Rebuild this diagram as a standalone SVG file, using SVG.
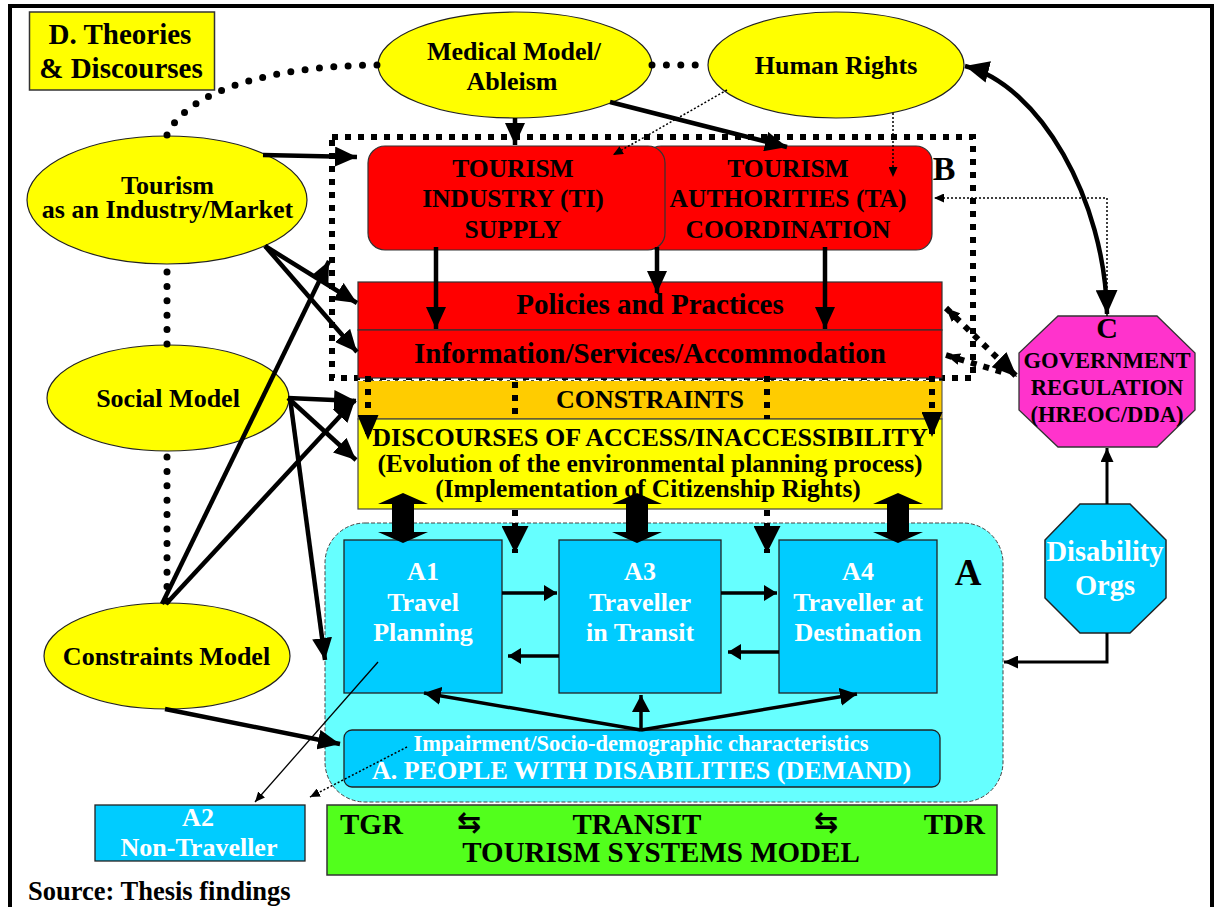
<svg xmlns="http://www.w3.org/2000/svg" width="1214" height="907" viewBox="0 0 1214 907">
<defs>
<style>
text{font-family:"Liberation Serif","Times New Roman",serif;font-weight:bold;text-anchor:middle;fill:#000}
.w{fill:#fff}
.f25{font-size:25.5px}
.f26{font-size:26px}
.f29{font-size:29px}
.f22{font-size:22.6px}
.sym{font-family:"DejaVu Sans",sans-serif;font-size:29px;font-weight:bold}
.ell{fill:#ffff00;stroke:#222;stroke-width:1.2}
.red{fill:#ff0000;stroke:#333;stroke-width:1.2}
.cy{fill:#00ccff;stroke:#222;stroke-width:1.3}
.ln{fill:none;stroke:#000}
.th{fill:none;stroke:#000;stroke-width:4.5}
.md{fill:none;stroke:#000;stroke-width:3.5}
.thin{fill:none;stroke:#000;stroke-width:1.3}
.dotl{fill:none;stroke:#000;stroke-width:1.5;stroke-dasharray:2 2}
.dots{fill:none;stroke:#000;stroke-width:7;stroke-linecap:round;stroke-dasharray:0 14.4}
.sq{fill:none;stroke:#000;stroke-width:6;stroke-dasharray:6 7}
</style>
<marker id="ah" markerUnits="userSpaceOnUse" viewBox="0 0 22 20" markerWidth="22" markerHeight="20" refX="22" refY="10" orient="auto-start-reverse"><path d="M0,0 L22,10 L0,20 Z"/></marker>
<marker id="hr" markerUnits="userSpaceOnUse" viewBox="0 0 24 22" markerWidth="24" markerHeight="22" refX="24" refY="11" orient="auto-start-reverse"><path d="M0,0 L24,11 L0,22 Z"/></marker>
<marker id="am" markerUnits="userSpaceOnUse" viewBox="0 0 13 16" markerWidth="13" markerHeight="16" refX="13" refY="8" orient="auto-start-reverse"><path d="M0,0 L13,8 L0,16 Z"/></marker>
<marker id="au" markerUnits="userSpaceOnUse" viewBox="0 0 17 18" markerWidth="17" markerHeight="18" refX="17" refY="9" orient="auto-start-reverse"><path d="M0,0 L17,9 L0,18 Z"/></marker>
<marker id="as" markerUnits="userSpaceOnUse" viewBox="0 0 10 9" markerWidth="10" markerHeight="9" refX="10" refY="4.5" orient="auto-start-reverse"><path d="M0,0 L10,4.5 L0,9 Z"/></marker>
<marker id="amd" markerUnits="userSpaceOnUse" viewBox="0 0 14 13" markerWidth="14" markerHeight="13" refX="14" refY="6.5" orient="auto-start-reverse"><path d="M0,0 L14,6.5 L0,13 Z"/></marker>
<marker id="asq" markerUnits="userSpaceOnUse" viewBox="0 0 25 21" markerWidth="25" markerHeight="21" refX="25" refY="10.5" orient="auto-start-reverse"><path d="M0,0 L25,10.5 L0,21 Z"/></marker>
<marker id="asqB" markerUnits="userSpaceOnUse" viewBox="0 0 27 27" markerWidth="27" markerHeight="27" refX="27" refY="13.5" orient="auto-start-reverse"><path d="M0,0 L27,13.5 L0,27 Z"/></marker>
<marker id="asm" markerUnits="userSpaceOnUse" viewBox="0 0 14 12" markerWidth="14" markerHeight="12" refX="14" refY="6" orient="auto-start-reverse"><path d="M0,0 L14,6 L0,12 Z"/></marker>
</defs>

<rect width="1214" height="907" fill="#fff"/>

<!-- outer frame -->
<g id="frame">
<rect x="10" y="6" width="1202" height="930" fill="none" stroke="#000" stroke-width="4"/>
</g>

<!-- D: theories and discourses -->
<g id="node-theories">
<rect x="29.5" y="12" width="185" height="78" fill="#ffff00" stroke="#333" stroke-width="1.5"/>
<text x="120" y="44" class="f29">D. Theories</text>
<text x="121" y="78" class="f29">&amp; Discourses</text>
</g>

<g id="node-medical">
<ellipse cx="515" cy="65" rx="137" ry="53" class="ell"/>
<text x="514" y="60" class="f26">Medical Model/</text>
<text x="512" y="90" class="f26">Ableism</text>
</g>

<g id="node-human-rights">
<ellipse cx="836" cy="65" rx="128" ry="53" class="ell"/>
<text x="836" y="74" class="f26">Human Rights</text>
</g>

<g id="node-tourism-market">
<ellipse cx="167" cy="200" rx="140" ry="64" class="ell"/>
<text x="167.5" y="194" class="f26">Tourism</text>
<text x="167.5" y="218" class="f26">as an Industry/Market</text>
</g>

<g id="node-social">
<ellipse cx="168" cy="398" rx="121" ry="53" class="ell"/>
<text x="168" y="407" class="f26">Social Model</text>
</g>

<g id="node-constraints-model">
<ellipse cx="167" cy="656" rx="123" ry="53" class="ell"/>
<text x="166.5" y="665" class="f26">Constraints Model</text>
</g>

<!-- B: supply side -->
<g id="node-B">
<rect x="332" y="137" width="641" height="241" class="sq"/>
<rect x="645" y="146" width="287" height="104" rx="16" class="red"/>
<text x="788" y="177" class="f25">TOURISM</text>
<text x="788" y="207" class="f25">AUTHORITIES (TA)</text>
<text x="788" y="238" class="f25">COORDINATION</text>
<rect x="368" y="146" width="297" height="104" rx="17" class="red"/>
<text x="513" y="177" class="f25">TOURISM</text>
<text x="513" y="207" class="f25">INDUSTRY (TI)</text>
<text x="513" y="238" class="f25">SUPPLY</text>
<text x="944" y="180" style="font-size:34px">B</text>
<rect x="358" y="282" width="584" height="48" class="red"/>
<text x="650" y="314" class="f29">Policies and Practices</text>
<rect x="358" y="330" width="584" height="48" class="red"/>
<text x="650" y="363" class="f29">Information/Services/Accommodation</text>
</g>

<g id="node-constraints">
<rect x="358" y="380.5" width="584" height="38.5" fill="#ffcc00" stroke="#444" stroke-width="1"/>
<line x1="358" y1="380.5" x2="942" y2="380.5" stroke="#fff" stroke-width="1" stroke-dasharray="5 3"/>
<text x="650" y="408" class="f26">CONSTRAINTS</text>
</g>

<g id="node-discourses">
<rect x="358" y="419" width="584" height="90" fill="#ffff00" stroke="#444" stroke-width="1.2"/>
<text x="650" y="446" class="f26">DISCOURSES OF ACCESS/INACCESSIBILITY</text>
<text x="650" y="471.5" style="font-size:25.5px">(Evolution of the environmental planning process)</text>
<text x="648" y="497" style="font-size:25.5px">(Implementation of Citizenship Rights)</text>
</g>

<!-- A: demand side -->
<g id="node-A">
<rect x="325" y="523" width="678" height="279" rx="40" fill="#66ffff" stroke="#444" stroke-width="1" stroke-dasharray="4 2"/>
<text x="968" y="585" style="font-size:37px">A</text>
</g>

<g id="node-A1">
<rect x="344" y="540" width="158" height="153" class="cy"/>
<text x="423" y="580" class="f26 w">A1</text>
<text x="423" y="611" class="f26 w">Travel</text>
<text x="423" y="641" class="f26 w">Planning</text>
</g>

<g id="node-A3">
<rect x="559" y="540" width="162" height="153" class="cy"/>
<text x="640" y="580" class="f26 w">A3</text>
<text x="640" y="611" class="f26 w">Traveller</text>
<text x="640" y="641" class="f26 w">in Transit</text>
</g>

<g id="node-A4">
<rect x="779" y="540" width="158" height="153" class="cy"/>
<text x="858" y="580" class="f26 w">A4</text>
<text x="858" y="611" class="f26 w">Traveller at</text>
<text x="858" y="641" class="f26 w">Destination</text>
</g>

<g id="node-people">
<rect x="344" y="730" width="596" height="57" rx="8" class="cy"/>
<text x="641" y="751" class="f22 w">Impairment/Socio-demographic characteristics</text>
<text x="641.5" y="779" class="f26 w">A. PEOPLE WITH DISABILITIES (DEMAND)</text>
</g>

<g id="node-A2">
<rect x="95" y="805" width="210" height="56" class="cy"/>
<text x="198" y="826" class="f26 w">A2</text>
<text x="199" y="856" class="f26 w">Non-Traveller</text>
</g>

<g id="node-systems">
<rect x="327" y="805" width="670" height="70" fill="#52ff1c" stroke="#333" stroke-width="1.5"/>
<text x="340" y="834" class="f29" style="text-anchor:start">TGR</text>
<text x="469" y="832" class="sym">⇆</text>
<text x="637" y="834" class="f29">TRANSIT</text>
<text x="826" y="832" class="sym">⇆</text>
<text x="985" y="834" class="f29" style="text-anchor:end">TDR</text>
<text x="661" y="862" class="f29">TOURISM SYSTEMS MODEL</text>
</g>

<!-- C: government regulation -->
<g id="node-C">
<polygon points="1058,316 1157,316 1195,353 1195,410 1157,447 1058,447 1019,410 1019,353" fill="#ff33cc" stroke="#333" stroke-width="1.3"/>
<text x="1107" y="338" style="font-size:30px">C</text>
<text x="1107" y="368" class="f22">GOVERNMENT</text>
<text x="1107" y="395" class="f22">REGULATION</text>
<text x="1107" y="422" class="f22">(HREOC/DDA)</text>
</g>

<g id="node-disability-orgs">
<polygon points="1080,504 1130,504 1166,540 1166,598 1130,633 1080,633 1045,598 1045,540" fill="#00ccff" stroke="#222" stroke-width="1.5"/>
<text x="1105" y="561" class="w" style="font-size:28.5px">Disability</text>
<text x="1105" y="595" class="w" style="font-size:28.5px">Orgs</text>
</g>

<text x="28" y="900" style="font-size:26.5px;text-anchor:start">Source: Thesis findings</text>

<g id="connectors">
<!-- links between theories -->
<path class="dots" d="M167,135 C185,95 260,66 378,65"/>
<path class="dots" d="M652,65 L708,65"/>
<path class="dots" d="M167,272 L167,345"/>
<path class="dots" d="M167,457 L167,603"/>

<!-- theories acting on supply and constraints -->
<path class="th" marker-end="url(#ah)" d="M263,155 L357,157"/>
<path class="th" marker-end="url(#ah)" d="M515,118 L515,145"/>
<path class="th" marker-end="url(#ah)" d="M610,102 L787,147"/>
<path class="th" marker-end="url(#ah)" d="M265,246 L357,303"/>
<path class="th" marker-end="url(#ah)" d="M265,246 L357,352"/>
<path class="th" marker-end="url(#ah)" d="M288,398 L356,401"/>
<path class="th" marker-end="url(#ah)" d="M288,398 L356,460"/>
<path class="th" marker-end="url(#ah)" d="M290,398 L325,660"/>
<path class="th" marker-end="url(#ah)" d="M162,604 L329,261"/>
<path class="th" marker-end="url(#ah)" d="M166,604 L355,400"/>
<path class="th" marker-end="url(#ah)" d="M165,709 L340,744"/>

<!-- supply into policies -->
<path class="th" marker-end="url(#ah)" d="M436,247 L436,329"/>
<path class="th" marker-end="url(#ah)" d="M657,247 L657,293"/>
<path class="th" marker-end="url(#ah)" d="M825,247 L825,329"/>

<!-- human rights and regulation -->
<path class="th" marker-start="url(#hr)" marker-end="url(#hr)" d="M965,66 C1040,85 1105,200 1107,314"/>
<path class="dotl" marker-end="url(#as)" d="M727,90 L613,155"/>
<path class="dotl" stroke-width="2" marker-end="url(#as)" d="M893,113 L893,177"/>
<path class="dotl" stroke-width="1.2" marker-end="url(#as)" d="M1107,316 L1107,198 L934,198"/>
<path class="sq" marker-start="url(#asm)" marker-end="url(#asq)" d="M946,308 L1017,377"/>
<path class="sq" marker-start="url(#asm)" d="M946,355 L1008,374"/>

<!-- constraints reaching discourses and travel stages -->
<path class="sq" marker-end="url(#asq)" d="M368,376 L368,440"/>
<path class="sq" marker-end="url(#asq)" d="M932,376 L932,437"/>
<path class="sq" d="M515,382 L515,419"/>
<path class="sq" d="M767,376 L767,419"/>
<path class="sq" marker-end="url(#asqB)" d="M515,510 L515,553"/>
<path class="sq" marker-end="url(#asqB)" d="M767,510 L767,553"/>

<!-- discourses two-way with travel stages -->
<path d="M403,493 L428,504 L414,504 L414,532 L428,532 L403,543 L378,532 L392,532 L392,504 L378,504 Z"/>
<path d="M637,493 L662,504 L648,504 L648,532 L662,532 L637,543 L612,532 L626,532 L626,504 L612,504 Z"/>
<path d="M898,493 L923,504 L909,504 L909,532 L923,532 L898,543 L873,532 L887,532 L887,504 L873,504 Z"/>

<!-- travel stages -->
<path class="md" marker-end="url(#am)" d="M502,593 L557,593"/>
<path class="md" marker-end="url(#am)" d="M721,593 L777,593"/>
<path class="md" marker-end="url(#am)" d="M559,656 L508,656"/>
<path class="md" marker-end="url(#am)" d="M779,652 L728,652"/>
<path class="md" marker-end="url(#au)" d="M641,730 L424,693"/>
<path class="md" marker-end="url(#au)" d="M641,730 L641,695"/>
<path class="md" marker-end="url(#au)" d="M641,730 L857,694"/>

<!-- non-travellers -->
<path class="thin" marker-end="url(#as)" d="M378,662 L255,802"/>
<path class="dotl" marker-end="url(#as)" d="M407,747 L310,797"/>

<!-- disability organisations -->
<path class="ln" stroke-width="3" marker-end="url(#amd)" d="M1107,504 L1107,448"/>
<path class="ln" stroke-width="3" marker-end="url(#amd)" d="M1107,633 L1107,662 L1004,662"/>
</g>
</svg>
